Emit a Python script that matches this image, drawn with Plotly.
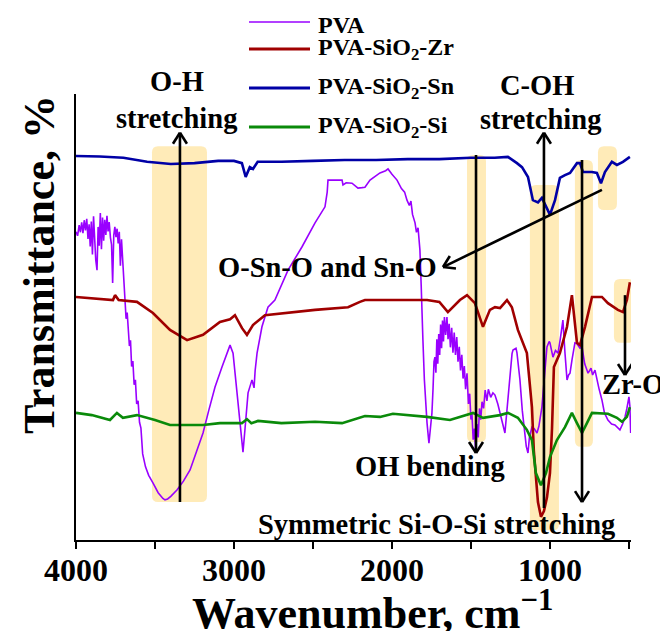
import plotly.graph_objects as go

# ---------------- data ----------------
pva_wn = [4000,3990,3980,3972,3964,3956,3948,3940,3932,3924,3917,3910,3903,3896,3889,3882,3875,3867,3860,3853,
          3846,3839,3832,3825,3818,3811,3804,3797,3790,3782,3775,3768,3761,3754,3747,3740,3733,3726,3719,3712,
          3705,3698,3690,3683,3676,3669,3662,3655,3648,3640,3632,3624,3616,3607,3598,3589,3578,3560,3540,3513,
          3480,3450,3437,3420,3400,3361,3320,3278,3240,3196,3160,3120,3076,3040,3025,3006,2990,2975,2958,2943,
          2930,2911,2886,2873,2866,2854,2823,2785,2741,2700,2658,2570,2487,2424,2410,2405,2316,2310,2290,2253,
          2230,2215,2190,2171,2139,2100,2076,2040,2025,2000,1968,1940,1920,1905,1890,1880,1870,1854,1845,1835,
          1823,1815,1808,1804,1795,1785,1778,1766,1757,1747,1740,1734,1728,1722,1716,1710,1704,1698,1692,1686,
          1680,1674,1668,1660,1652,1645,1638,1630,1622,1614,1606,1598,1590,1582,1574,1566,1558,1550,1542,1534,
          1525,1516,1508,1500,1494,1486,1478,1470,1462,1454,1446,1438,1430,1420,1410,1399,1390,1375,1361,1348,
          1330,1316,1300,1285,1270,1253,1240,1234,1215,1209,1198,1190,1175,1158,1150,1139,1130,1114,1100,1082,
          1070,1051,1035,1019,1005,1000,990,981,965,949,935,918,905,892,882,873,860,842,829,810,
          797,780,770,759,740,730,715,700,690,671,655,633,610,589,570,557,540,525,513,500,
          494,489]
pva_t = [69.1,68.2,70.6,69.0,71.2,68.8,71.7,69.4,72.0,67.5,70.8,65.8,71.4,64.0,72.6,66.5,62.8,60.5,70.2,66.0,
         73.3,65.2,72.3,67.1,71.8,68.4,72.7,69.2,71.3,67.8,66.2,57.6,68.3,70.2,67.9,69.8,66.5,69.1,61.5,67.4,
         63.0,58.5,52.2,49.6,51.0,46.2,43.5,44.8,38.9,40.1,34.8,35.9,30.5,31.2,26.4,25.1,19.3,16.4,14.5,12.8,
         10.6,9.3,9.0,9.2,9.8,11.2,13.2,15.7,19.5,24.0,29.0,34.3,38.8,42.5,43.7,41.9,36.0,29.8,23.5,19.7,
         25.0,33.0,35.9,34.1,38.0,41.9,47.8,52.2,53.8,57.0,60.5,65.7,71.1,74.7,78.0,80.7,80.7,79.6,80.1,80.0,
         79.3,78.9,79.0,79.1,80.7,81.6,82.3,82.8,83.2,82.0,80.7,78.8,78.0,76.2,75.0,76.0,73.0,71.1,69.0,70.0,
         65.0,57.0,47.0,44.8,36.0,29.0,26.2,21.7,25.0,28.5,34.0,40.0,41.0,37.5,45.0,39.5,46.2,41.5,48.3,43.0,
         49.2,44.5,50.0,46.0,50.0,45.0,48.5,43.2,47.6,42.0,46.5,41.5,45.5,40.0,43.3,38.0,41.5,36.2,39.0,33.8,
         37.4,30.5,32.8,27.0,28.5,22.5,25.0,19.8,26.0,23.0,29.5,27.0,31.0,29.5,33.6,31.2,33.8,32.0,33.0,32.5,
         30.5,28.5,26.0,24.0,30.0,37.4,41.8,42.6,43.0,42.0,38.5,35.9,29.0,24.0,21.0,19.5,23.0,25.3,25.0,24.0,
         25.5,29.8,37.0,43.3,44.5,44.2,42.5,41.0,42.5,41.9,45.0,49.3,42.0,35.9,37.0,37.4,40.5,44.2,44.0,43.0,
         43.3,39.5,38.5,37.4,38.5,37.0,38.1,35.5,34.0,31.4,28.5,26.9,26.0,25.8,25.0,24.7,26.0,27.6,29.5,32.1,
         30.0,24.0]

zr_wn = [4000,3850,3766,3753,3730,3614,3513,3405,3297,3196,3089,3025,2994,2949,2918,2880,2804,2487,2278,2203,
         2171,1994,1778,1700,1646,1570,1525,1475,1424,1380,1348,1316,1272,1241,1203,1146,1114,1102,1089,1076,
         1057,1038,1019,1000,987,975,937,892,861,829,810,778,734,671,633,570,538,513,494]
zr_t = [54.5,54.0,53.8,54.9,53.8,53.4,50.9,47.1,44.8,46.0,48.9,49.5,50.4,47.5,46.0,48.2,50.4,51.6,52.2,53.4,
        53.8,53.8,53.8,53.4,51.1,53.8,54.9,53.1,47.8,51.6,52.2,52.0,53.8,52.2,47.1,41.9,29.8,20.0,13.0,8.5,
        5.2,6.5,9.5,15.0,25.0,38.8,41.9,47.8,54.9,44.2,43.7,47.8,54.5,54.5,53.1,51.6,51.1,53.8,57.8]

sn_wn = [4000,3850,3700,3550,3400,3250,3100,3000,2950,2926,2900,2880,2850,2700,2500,2300,2100,1900,1700,1500,
         1350,1266,1209,1177,1139,1108,1076,1051,1013,1000,968,937,905,873,829,810,791,734,703,677,
         652,608,576,538,494]
sn_t = [86.1,86.0,85.7,84.8,84.3,84.5,85.0,85.0,84.5,81.4,83.6,83.2,84.8,84.8,85.0,85.2,85.2,85.4,85.4,85.7,
        85.7,85.9,84.5,83.6,81.4,76.2,75.7,76.7,73.9,72.9,76.2,81.2,81.8,82.3,84.5,84.5,82.5,82.5,82.3,80.0,
        82.5,84.8,84.1,84.8,85.9]

si_wn = [4000,3900,3785,3741,3703,3614,3500,3405,3196,3089,2950,2918,2890,2848,2700,2487,2316,2171,2076,1994,
         1778,1633,1487,1424,1316,1266,1203,1146,1114,1089,1057,1025,1000,956,905,861,829,797,766,734,
         633,576,544,513,494]
si_t = [28.5,28.0,26.9,28.5,27.4,28.0,26.9,25.8,25.8,26.2,26.2,27.1,26.2,26.7,26.2,26.5,26.2,27.8,27.6,28.3,
        27.6,26.9,28.5,27.4,28.0,28.5,27.4,24.7,22.4,15.0,12.3,15.0,18.6,22.4,25.3,28.5,26.2,24.0,26.2,28.5,
        28.3,27.4,26.5,27.6,29.8]

series_names = ["PVA", "PVA-SiO<sub>2</sub>-Zr", "PVA-SiO<sub>2</sub>-Sn", "PVA-SiO<sub>2</sub>-Si"]
series_colors = ["#9900FF", "#A00000", "#0000A6", "#0A8A0A"]
series_widths = [1.6, 2.6, 2.6, 2.6]

x_ticks = [4000, 3500, 3000, 2500, 2000, 1500, 1000, 500]
x_tick_labels = ["4000", "", "3000", "", "2000", "", "1000", ""]
x_title = "Wavenumber, cm<sup>\u22121</sup>"
y_title = "Transmittance, %"

# highlighted bands: (wn_left, wn_right, t_bottom, t_top)
bands = [(3519, 3171, 8.5, 88.3), (1525, 1405, 22.0, 86.3), (1127, 943, 2.2, 79.6),
         (842, 728, 20.9, 85.2), (696, 576, 74.0, 88.3), (595, 468, 44.2, 58.5)]
# arrows: (wn_tail, t_tail, wn_tip, t_tip)
arrows = [(3342, 8.5, 3342, 91.3), (1468, 86.3, 1468, 19.5), (1038, 7.2, 1038, 91.3),
          (797, 85.2, 797, 8.5), (525, 54.9, 525, 37.0), (671, 78.5, 1677, 61.2)]
# labels: (text, wn, t, xanchor)
labels = [("O-H", 3361, 102.7, "center"), ("stretching", 3361, 94.6, "center"),
          ("C-OH", 1082, 102.0, "center"), ("stretching", 1063, 94.2, "center"),
          ("O-Sn-O and Sn-O", 2405, 61.0, "center"), ("OH bending", 1760, 16.4, "center"),
          ("Symmetric Si-O-Si stretching", 1715, 3.4, "center"), ("Zr-O", 684, 34.8, "left")]

# ---------------- figure ----------------
W, H = 660, 631
ML, MR, MT, MB = 76, 29, 94, 91
XR = [4000, 487]
YR = [0, 100]
PW, PH = W - ML - MR, H - MT - MB
sx = PW / (XR[0] - XR[1])   # px per cm-1
sy = PH / (YR[1] - YR[0])   # px per unit

FONT = "Liberation Serif, Times New Roman, serif"

fig = go.Figure()
for wn, t, name, col, lw in zip([pva_wn, zr_wn, sn_wn, si_wn], [pva_t, zr_t, sn_t, si_t],
                                series_names, series_colors, series_widths):
    fig.add_trace(go.Scatter(x=wn, y=t, mode="lines", name=name, showlegend=False,
                             line=dict(color=col, width=lw)))

shapes = []
annotations = []

band_col = "rgba(255,228,160,0.75)"
r_px = 6
for (xl, xr, yb, yt) in bands:
    rx, ry = r_px / sx, r_px / sy
    p = (f"M{xl - rx},{yt} L{xr + rx},{yt} Q{xr},{yt} {xr},{yt - ry} "
         f"L{xr},{yb + ry} Q{xr},{yb} {xr + rx},{yb} L{xl - rx},{yb} "
         f"Q{xl},{yb} {xl},{yb + ry} L{xl},{yt - ry} Q{xl},{yt} {xl - rx},{yt} Z")
    shapes.append(dict(type="path", path=p, xref="x", yref="y", fillcolor=band_col,
                       line=dict(width=0), layer="below"))

head_len, head_half = 11, 7
for (x0, y0, x1, y1) in arrows:
    shapes.append(dict(type="line", x0=x0, y0=y0, x1=x1, y1=y1, xref="x", yref="y",
                       line=dict(color="black", width=2.6), layer="above"))
    dxp = -(x1 - x0) * sx
    dyp = -(y1 - y0) * sy
    L = (dxp ** 2 + dyp ** 2) ** 0.5
    ux, uy = dxp / L, dyp / L
    for s in (1, -1):
        bx = -ux * head_len + s * (-uy) * head_half
        by = -uy * head_len + s * ux * head_half
        shapes.append(dict(type="line", x0=x1, y0=y1, x1=x1 - bx / sx, y1=y1 - by / sy,
                           xref="x", yref="y", line=dict(color="black", width=2.6),
                           layer="above"))

for (txt, xv, yv, xa) in labels:
    annotations.append(dict(text=txt, x=xv, y=(yv - YR[0]) / (YR[1] - YR[0]), xref="x", yref="paper",
                            showarrow=False, xanchor=xa, yanchor="middle",
                            font=dict(family=FONT, size=28.5, color="black", weight="bold")))

# legend drawn at the top (line samples + labels), in paper coordinates
leg_x0, leg_x1, leg_tx = (249 - ML) / PW, (310 - ML) / PW, (316 - ML) / PW
leg_rows = [(540 - 22) / PH, (540 - 49) / PH, (540 - 88) / PH, (540 - 127) / PH]
leg_text_off = [-3, 0, 0, 0]
leg_widths = [1.6, 3.2, 3.2, 3.2]
for name, col, lw, yy, off in zip(series_names, series_colors, leg_widths, leg_rows, leg_text_off):
    shapes.append(dict(type="line", xref="paper", yref="paper", x0=leg_x0, x1=leg_x1, y0=yy, y1=yy,
                       line=dict(color=col, width=lw)))
    annotations.append(dict(text=name, x=leg_tx, y=yy + off / PH, xref="paper", yref="paper",
                            showarrow=False, xanchor="left", yanchor="middle",
                            font=dict(family=FONT, size=24, color="black", weight="bold")))

# axis titles
annotations.append(dict(text=x_title, x=(372 - ML) / PW, y=-(610 - 540) / PH, xref="paper", yref="paper",
                        showarrow=False, xanchor="center", yanchor="middle",
                        font=dict(family=FONT, size=44, color="black", weight="bold")))
annotations.append(dict(text=y_title, x=(39 - ML) / PW, y=(540 - 265) / PH, xref="paper", yref="paper",
                        showarrow=False, xanchor="center", yanchor="middle", textangle=-90,
                        font=dict(family=FONT, size=44, color="black", weight="bold")))

fig.update_layout(
    width=W, height=H,
    margin=dict(l=ML, r=MR, t=MT, b=MB, autoexpand=False),
    paper_bgcolor="white", plot_bgcolor="white",
    font=dict(family=FONT, color="black", weight="bold"),
    shapes=shapes, annotations=annotations,
    showlegend=False,
    xaxis=dict(range=XR, showline=True, linecolor="black", linewidth=1.5, mirror=False,
               showgrid=False, zeroline=False, ticks="outside", ticklen=7, tickwidth=1.5,
               tickcolor="black", tickvals=x_ticks, ticktext=x_tick_labels, ticklabelstandoff=-6,
               tickfont=dict(family=FONT, size=32, color="black", weight="bold")),
    yaxis=dict(range=YR, showline=True, linecolor="black", linewidth=1.5, showgrid=False,
               zeroline=False, showticklabels=False, ticks=""),
)

fig.write_html("out.html")
